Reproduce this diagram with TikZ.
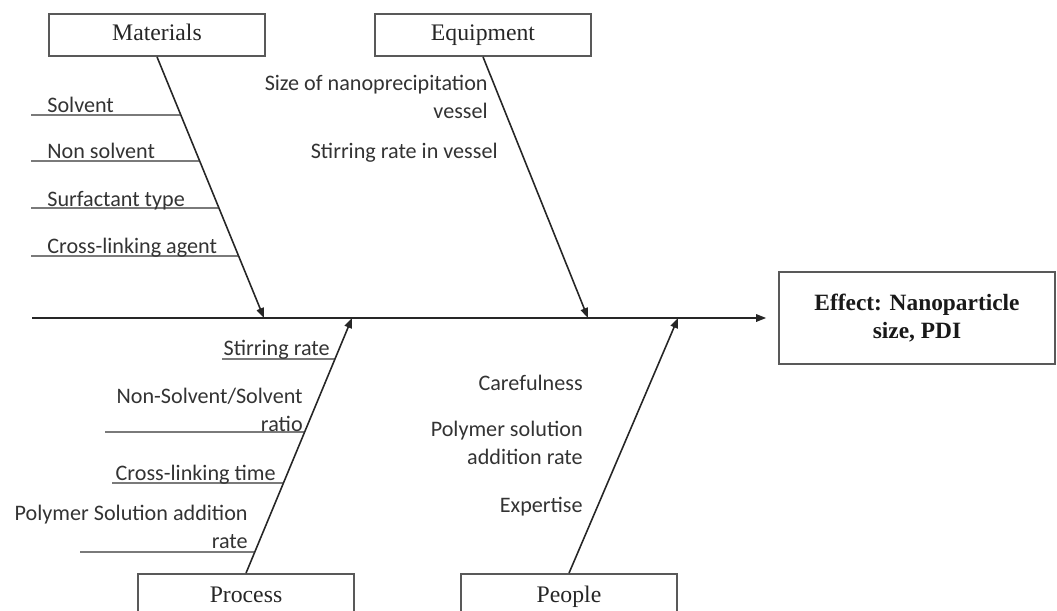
\documentclass[tikz,border=0pt]{standalone}
\usepackage{fontspec}
\setmainfont{Liberation Serif}
\newfontfamily\causefont{Carlito}
\usetikzlibrary{arrows.meta, positioning}

\begin{document}
\begin{tikzpicture}[
    x=0.02cm, y=-0.02cm,
    catbox/.style={draw=black!65, line width=1pt, rectangle, minimum width=4.32cm, minimum height=0.84cm, text height=1.9ex, text depth=0.5ex, font=\fontsize{13.5}{16}\selectfont, text=black!85},
    effectbox/.style={draw=black!65, line width=1pt, rectangle, minimum width=5.52cm, minimum height=1.84cm, align=center, font=\fontsize{13.3}{16}\selectfont\bfseries, text=black!90},
    bone/.style={draw=black!85, line width=0.9pt, -{Triangle[length=2mm, width=1.5mm]}},
    twig/.style={draw=black!80, line width=0.8pt},
    cause/.style={font=\causefont\fontsize{12.6}{15.5}\selectfont, text=black!80, inner sep=0pt, align=right}
]
\useasboundingbox (0,0) rectangle (1057,611);
\clip (0,0) rectangle (1057,611);

% Categories
\node[catbox] (mat) at (157,35) {Materials};
\node[catbox] (equip) at (483,35) {Equipment};
\node[catbox, minimum height=0.92cm] (proc) at (246,597) {Process};
\node[catbox, minimum height=0.92cm] (ppl) at (569,597) {People};
\node[effectbox] (effect) at (917,318) {Effect: Nanoparticle\\size, PDI};

% Spine and bones
\coordinate (tail) at (32,318);
\coordinate (matend) at (264,318);
\coordinate (equipend) at (588,318);
\coordinate (procend) at (352,318);
\coordinate (pplend) at (678,318);

\draw[bone, shorten >=0.24cm] (tail) -- (effect.west);
\draw[bone] (mat.south) -- (matend);
\draw[bone] (equip.south) -- (equipend);
\draw[bone] (proc.north) -- (procend);
\draw[bone] (ppl.north) -- (pplend);

% Materials causes
\coordinate (ms1) at (31,115);
\coordinate (ms2) at (31,161);
\coordinate (ms3) at (31,208);
\coordinate (ms4) at (31,256);
\draw[twig] (ms1) -- (intersection of 31,115--400,115 and mat.south--matend);
\draw[twig] (ms2) -- (intersection of 31,161--400,161 and mat.south--matend);
\draw[twig] (ms3) -- (intersection of 31,208--400,208 and mat.south--matend);
\draw[twig] (ms4) -- (intersection of 31,256--400,256 and mat.south--matend);
\node[cause, anchor=base west] (solvent) at (47,113) {Solvent};
\node[cause, anchor=base west] (nonsolvent) at (47,159) {Non solvent};
\node[cause, anchor=base west] (surfactant) at (47,206) {Surfactant type};
\node[cause, anchor=base west] (crossagent) at (47,253) {Cross-linking agent};

% Equipment causes
\node[cause, anchor=east] (vesselsize) at (488,97) {Size of nanoprecipitation\\vessel};
\node[cause, anchor=east] (vesselstir) at (498,153) {Stirring rate in vessel};

% Process causes
\coordinate (ps1) at (222,359);
\coordinate (ps2) at (105,432);
\coordinate (ps3) at (112,483);
\coordinate (ps4) at (80,552);
\draw[twig] (ps1) -- (intersection of 222,359--400,359 and proc.north--procend);
\draw[twig] (ps2) -- (intersection of 105,432--400,432 and proc.north--procend);
\draw[twig] (ps3) -- (intersection of 112,483--400,483 and proc.north--procend);
\draw[twig] (ps4) -- (intersection of 80,552--400,552 and proc.north--procend);
\node[cause, anchor=east] (stirrate) at (330,350) {Stirring rate};
\node[cause, anchor=east] (ratio) at (303,410) {Non-Solvent/Solvent\\ratio};
\node[cause, anchor=east] (crosstime) at (276,475) {Cross-linking time};
\node[cause, anchor=east] (polyrate) at (248,527) {Polymer Solution addition\\rate};

% People causes
\node[cause, anchor=east] (careful) at (583,383) {Carefulness};
\node[cause, anchor=east] (addrate) at (583,443) {Polymer solution\\addition rate};
\node[cause, anchor=east] (expertise) at (583,507) {Expertise};

\end{tikzpicture}
\end{document}
